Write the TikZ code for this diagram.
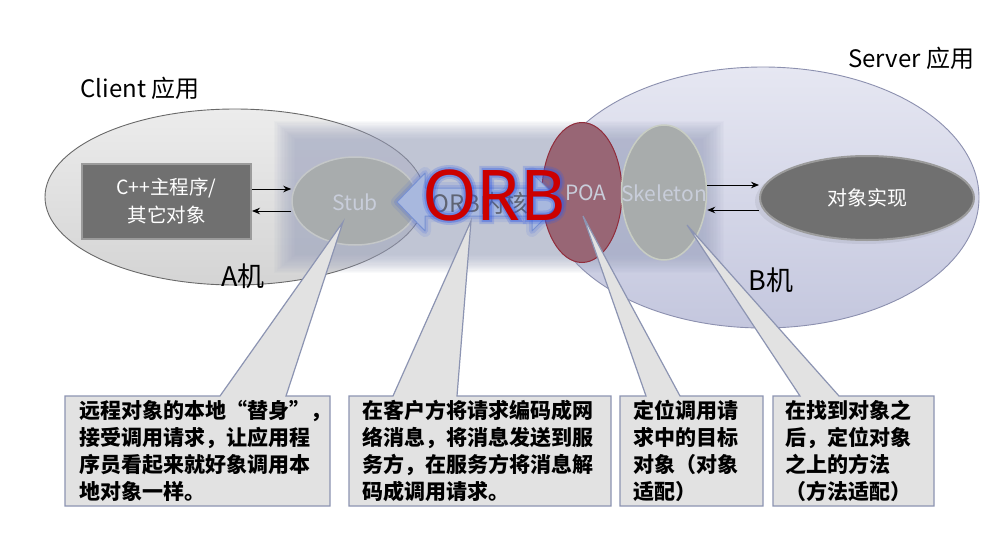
\documentclass[tikz,border=0pt]{standalone}
\usepackage{fontspec}
\setmainfont{Noto Sans CJK SC}
\newfontfamily\lat{Noto Sans}
\newfontfamily\latglowa[FakeBold=12]{Noto Sans}
\newfontfamily\latglowb[FakeBold=6]{Noto Sans}
\usetikzlibrary{shapes.geometric,arrows.meta}
\definecolor{clientTop}{RGB}{236,236,236}
\definecolor{clientBot}{RGB}{212,212,212}
\definecolor{clientEdge}{RGB}{105,105,105}
\definecolor{serverTop}{RGB}{230,231,242}
\definecolor{serverBot}{RGB}{196,199,222}
\definecolor{serverEdge}{RGB}{140,144,175}
\definecolor{blurc}{RGB}{158,165,192}
\definecolor{darkbox}{RGB}{112,112,112}
\definecolor{darkrim}{RGB}{155,155,155}
\definecolor{stubfill}{RGB}{168,172,173}
\definecolor{stubrim}{RGB}{196,199,200}
\definecolor{poafill}{RGB}{152,102,117}
\definecolor{poarim}{RGB}{145,45,60}
\definecolor{skelfill}{RGB}{168,172,172}
\definecolor{skelrim}{RGB}{200,205,195}
\definecolor{paletext}{RGB}{200,205,218}
\definecolor{arrowfill}{RGB}{168,184,222}
\definecolor{arrowedge}{RGB}{120,145,210}
\definecolor{glowblue}{RGB}{50,90,230}
\definecolor{coretext}{RGB}{95,100,115}
\definecolor{orbred}{RGB}{204,0,0}
\definecolor{callfill}{RGB}{226,226,226}
\definecolor{calledge}{RGB}{140,148,178}
\begin{document}
\begin{tikzpicture}[x=1pt,y=-1pt,
  ell/.style={ellipse, inner sep=0pt},
  callout/.style={fill=callfill, draw=calledge, line width=1.2pt, line join=miter},
  calltext/.style={anchor=north west, inner sep=0pt, align=left, text=black,
    font=\fontsize{21}{27}\selectfont\bfseries},
  biglabel/.style={inner sep=0pt, text=black, font=\fontsize{24}{28}\selectfont},
  pale/.style={text=paletext, font=\fontsize{21}{24}\selectfont},
  smallarrow/.style={-{Stealth[length=8pt,width=6.5pt]}, line width=1pt, black}
]
\useasboundingbox (0,0) rectangle (999,541);
\fill[white] (0,0) rectangle (999,541);

% machine ellipses
\node[ell, minimum width=380pt, minimum height=176pt, top color=clientTop, bottom color=clientBot,
  draw=clientEdge, line width=0.9pt] (client) at (235,197) {};
\node[ell, minimum width=432pt, minimum height=261pt, top color=serverTop, bottom color=serverBot,
  draw=serverEdge, line width=0.9pt] (server) at (763,197.5) {};

% blurred ORB band
\foreach \i in {0,...,15} {
  \fill[blurc, opacity=0.056] (274+\i*1.4,121+\i*1.2) rectangle (724-\i*1.4,273-\i*1.2);
}

% application objects
\node[rectangle, minimum width=169pt, minimum height=75pt, fill=darkbox, draw=darkrim, line width=2pt,
  text=white, align=center, font=\fontsize{19.5}{28}\selectfont] (cpp) at (166.5,201.5) {C++主程序/\\其它对象};
\fill[black, opacity=0.06] (864,201) ellipse [x radius=109pt, y radius=43pt];
\node[ell, minimum width=214pt, minimum height=84pt, fill=darkbox, draw=darkrim, line width=2pt,
  text=white, font=\fontsize{20}{24}\selectfont] (obj) at (867,198) {对象实现};

% stub, POA, skeleton
\node[ell, minimum width=126pt, minimum height=88pt, fill=stubfill, draw=stubrim, line width=1.5pt] (stub) at (355,201) {};
\node[pale] (stubtxt) at (355,202) {Stub};
\node[ell, minimum width=80pt, minimum height=140pt, fill=poafill, draw=poarim, line width=1pt] (poa) at (582,192.5) {};
\node[ell, minimum width=85pt, minimum height=135pt, fill=skelfill, draw=skelrim, line width=1.5pt] (skel) at (664,192.5) {};
\node[pale] (poatxt) at (586,193) {POA};
\node[pale] (skeltxt) at (664,193) {Skeleton};

% small arrows
\draw[smallarrow] ([yshift=12.5pt]cpp.east) -- ([yshift=12.5pt]cpp.east -| stub.west);
\draw[smallarrow] ([yshift=-9.5pt]cpp.east -| stub.west) -- ([yshift=-9.5pt]cpp.east);
\draw[smallarrow] ([yshift=7.5pt]skel.east) -- ([yshift=7.5pt]skel.east -| obj.west);
\draw[smallarrow] ([yshift=-17.5pt]skel.east -| obj.west) -- ([yshift=-17.5pt]skel.east);

% ORB core double arrow
\def\corepath{(397,202) -- (425,173) -- (425,188) -- (532,188) -- (532,173) -- (561,202) -- (532,231) -- (532,216) -- (425,216) -- (425,231) -- cycle}
\draw[glowblue, opacity=0.10, line width=12pt, line join=round] \corepath;
\draw[glowblue, opacity=0.16, line width=6pt, line join=round] \corepath;
\filldraw[fill=arrowfill, draw=arrowedge, line width=1pt, line join=round] \corepath;
\node[text=coretext, font=\fontsize{24}{26}\selectfont] (core) at (480,203) {ORB内核};

% big ORB label with glow
\node[text=glowblue, opacity=0.22, inner sep=0pt, font=\latglowa\fontsize{70}{70}\selectfont] (orbglowa) at (494,195) {ORB};
\node[text=glowblue, opacity=0.35, inner sep=0pt, font=\latglowb\fontsize{70}{70}\selectfont] (orbglowb) at (494,195) {ORB};
\node[text=orbred, inner sep=0pt, font=\lat\fontsize{70}{70}\selectfont] (orb) at (494,195) {ORB};

% callouts
\draw[callout] (65,396) -- (220,396) -- (343,222) -- (286,396) -- (330,396) -- (330,506) -- (65,506) -- cycle;
\draw[callout] (349,396) -- (393,396) -- (471,221) -- (457,396) -- (611,396) -- (611,506) -- (349,506) -- cycle;
\draw[callout] (620,396) -- (646,396) -- (583,216) -- (680,396) -- (763,396) -- (763,506) -- (620,506) -- cycle;
\draw[callout] (773,396) -- (800,396) -- (687,225) -- (839,396) -- (934,396) -- (934,506) -- (773,506) -- cycle;

\node[calltext] (t1) at (79,400) {远程对象的本地“替身”，\\接受调用请求，让应用程\\序员看起来就好象调用本\\地对象一样。};
\node[calltext] (t2) at (362,400) {在客户方将请求编码成网\\络消息，将消息发送到服\\务方，在服务方将消息解\\码成调用请求。};
\node[calltext] (t3) at (633,400) {定位调用请\\求中的目标\\对象（对象\\适配）};
\node[calltext] (t4) at (785,400) {在找到对象之\\后，定位对象\\之上的方法\\（方法适配）};

% labels
\node[biglabel] (clientlbl) at (140,88) {Client 应用};
\node[biglabel] (serverlbl) at (911,58) {Server 应用};
\node[biglabel, font=\fontsize{27}{30}\selectfont] (alabel) at (243,276) {A机};
\node[biglabel, font=\fontsize{27}{30}\selectfont] (blabel) at (771,280) {B机};
\end{tikzpicture}
\end{document}
